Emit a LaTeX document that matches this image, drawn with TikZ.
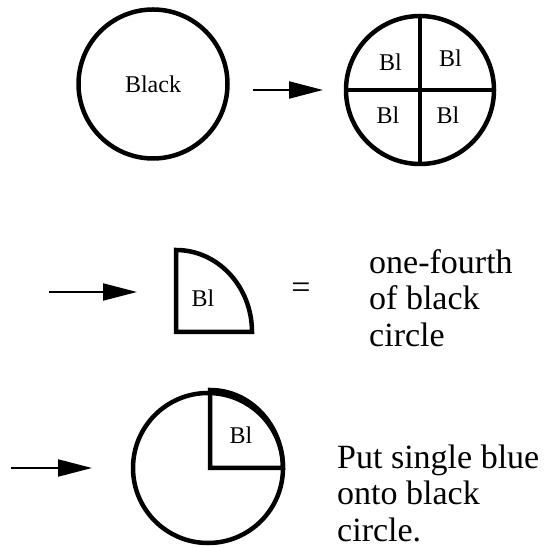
\documentclass[tikz,border=0pt]{standalone}
\usepackage{fontspec}
\setmainfont{Liberation Serif}
\usetikzlibrary{arrows.meta}
\tikzset{
  disc/.style={circle,draw,line width=4.5pt,inner sep=0pt},
  lbl/.style={font=\fontsize{24}{28}\selectfont,inner sep=0pt},
  big/.style={font=\fontsize{34}{36.5}\selectfont,align=left,anchor=base west,inner sep=0pt},
  arr/.style={line width=2pt,-{Triangle[length=34pt,width=17pt]}},
  thick line/.style={line width=4.5pt}
}
\begin{document}
\begin{tikzpicture}[x=1pt,y=1pt]
  \useasboundingbox (0,0) rectangle (547,548);
  \draw
    (153,464) node[disc,minimum size=149pt,lbl] (black){Black}
    (420,458) node[disc,minimum size=148pt] (quad){}
    (208,80) node[disc,minimum size=150pt] (whole){};
  \draw[thick line] (quad.north) -- (quad.south);
  \draw[thick line] (quad.west) -- (quad.east);
  \draw
    (390.5,486) node[lbl] (q1){Bl}
    (450.5,490) node[lbl] (q2){Bl}
    (388,433) node[lbl] (q3){Bl}
    (448,433) node[lbl] (q4){Bl};
  \draw[thick line] (176,298) -- (176,216) -- (252,216)
    arc[start angle=0,end angle=90,x radius=76,y radius=82] -- cycle;
  \node[lbl] (part) at (203,250) {Bl};
  \node[font=\fontsize{34}{36.5}\selectfont,inner sep=0pt] (eq) at (301,257) {=};
  \node[big] (txt1) at (369,201.7) {one-fourth\\of black\\circle};
  \draw[thick line] (210,158) -- (210,80) -- (283,80)
    arc[start angle=0,end angle=90,x radius=73,y radius=78] -- cycle;
  \node[lbl] (put) at (241,113) {Bl};
  \node[big] (txt2) at (337,6.7) {Put single blue\\onto black\\circle.};
  \coordinate (a1) at (253,458);
  \coordinate (b1) at (323,458);
  \coordinate (a2) at (49,256);
  \coordinate (b2) at (137,256);
  \coordinate (a3) at (11,80);
  \coordinate (b3) at (92,80);
  \begin{scope}[arr]
    \draw (a1) to (b1);
    \draw (a2) to (b2);
    \draw (a3) to (b3);
  \end{scope}
\end{tikzpicture}
\end{document}
